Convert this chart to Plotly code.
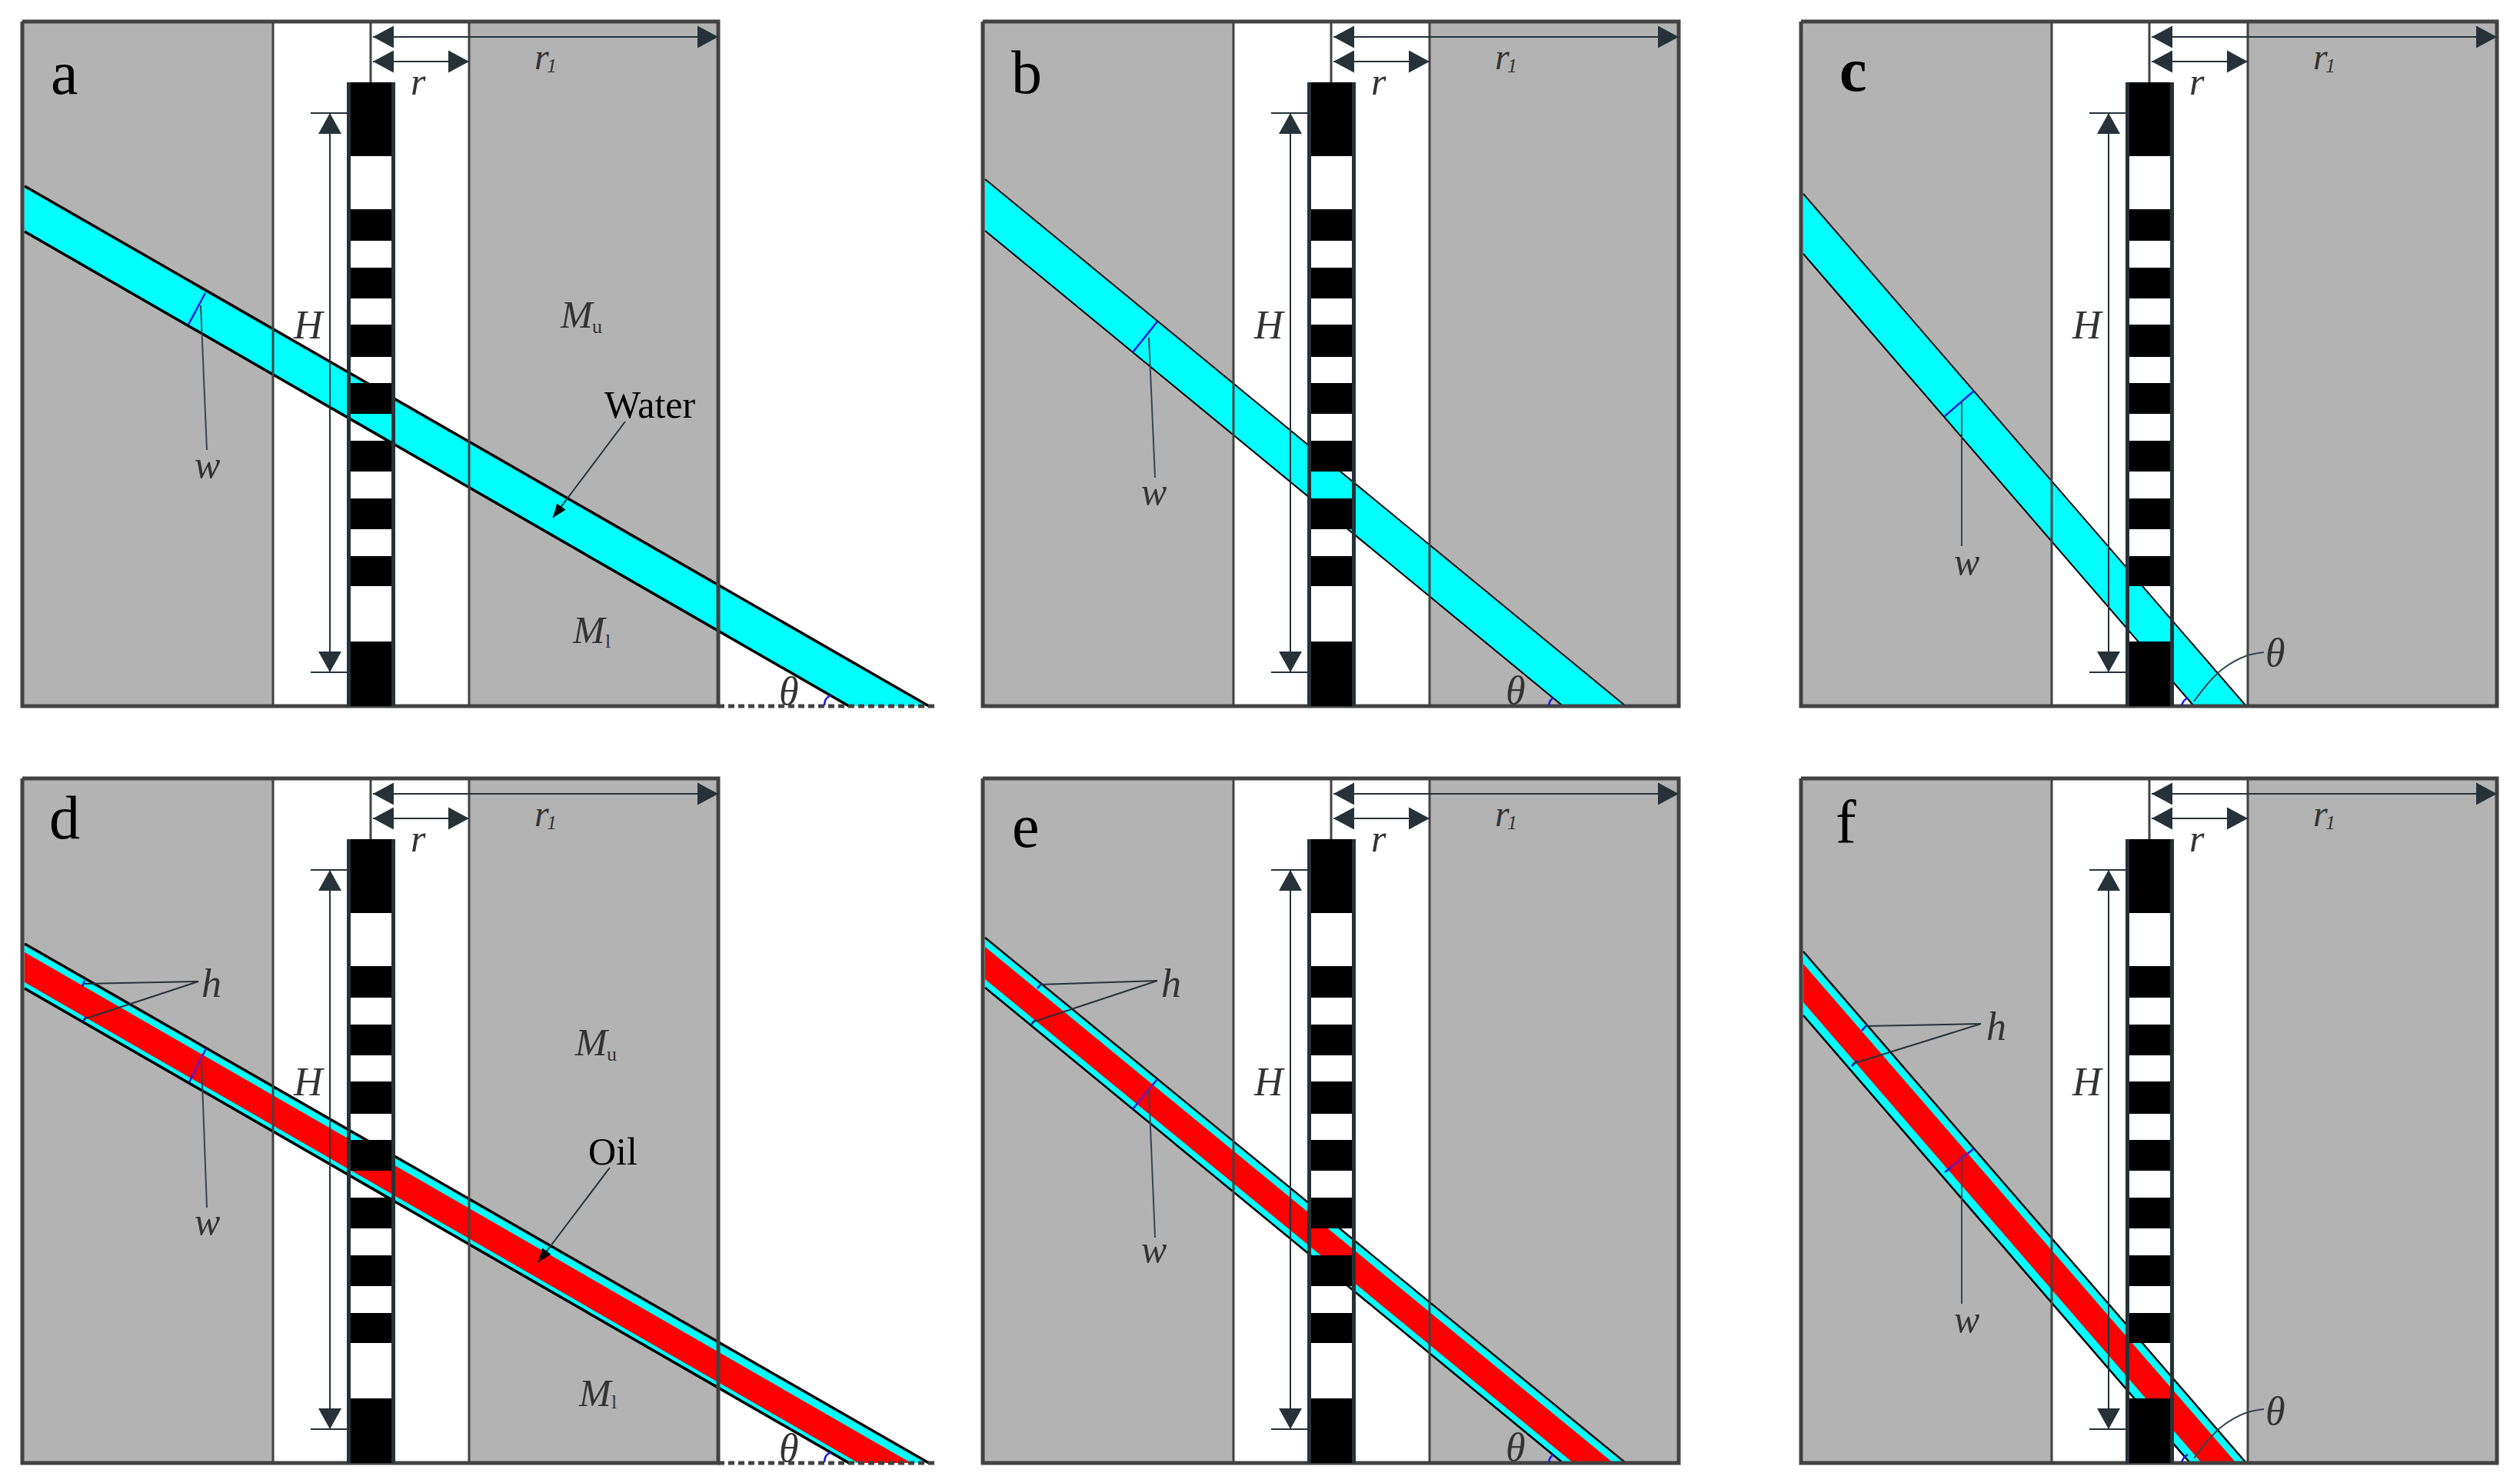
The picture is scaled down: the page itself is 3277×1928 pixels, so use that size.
import plotly.graph_objects as go

panel_names = ["a", "b", "<b>c</b>", "d", "e", "f"]
panel_dx = [0, 1249, 2313, 0, 1249, 2313]
panel_dy = [0, 0, 0, 984, 984, 984]

frame_x = [29, 934]
frame_y = [28, 918]
zone_left = 355
zone_right = 610
well_center = 482
well_left = 451
well_right = 514
well_top = 107
# black stripe edges of the well (top, bottom)
stripe_top = [107, 272, 348, 422, 498, 573, 648, 723, 834]
stripe_bottom = [203, 313, 388, 464, 538, 613, 688, 762, 918]

# band: y at the left edge, x at the bottom edge
band_left_x = 32
band_top_y = [242, 233, 252, 243, 235, 253]
band_low_y = [301, 300, 330, 301, 300, 336]
band_top_end = [1208, 865, 608, 1208, 865, 608]
band_low_end = [1104, 783.5, 540, 1104, 783.5, 535]
band_edge = [3.5, 2, 2, 3.5, 2.5, 2.5]
# oil layer, only bottom row
oil_top_y = [None, None, None, 254, 247, 269]
oil_low_y = [None, None, None, 293, 289, 319]
oil_top_end = [None, None, None, 1185, 849, 595]
oil_low_end = [None, None, None, 1116, 797, 550]

label_pos = [(84, 95), (86, 94), (97, 91), (84, 79), (85, 90), (87, 85)]
w_text = [(269, 604), (251, 639), (244, 730), (269, 604), (251, 640), (244, 731)]
w_seg = [[(267, 381), (245, 422)], [(256, 418), (224, 458)], [(254, 508), (216, 541)],
         [(268, 379), (246, 423)], [(256, 419), (224, 458)], [(254, 509), (216, 540)]]
w_lead = [[(261, 397), (269, 585)], [(245, 439), (253, 621)], [(238, 521), (238, 710)],
          [(262, 396), (269, 586)], [(245, 434), (253, 625)], [(238, 517), (238, 711)]]
theta_text = [(1026, 898), (722, 897), (646, 848), (1026, 898), (722, 897), (646, 850)]
theta_arc = [[(1072, 917), (1074, 909), (1080, 904)], [(765, 917), (767, 911), (771, 907)],
             [(524, 917), (527, 911), (532, 907)], [(1072, 917), (1074, 909), (1080, 904)],
             [(765, 917), (767, 911), (771, 907)], [(524, 917), (527, 911), (532, 907)]]
theta_curve = [(631, 848), (607, 853), (577, 870), (557, 890), (540, 912)]
dash_end = 1217

h_text = [None, None, None, (275, 294), (274, 294), (283, 350)]
h_apex = [None, None, None, (258, 292), (256, 291), (263, 347)]
h_ends = [None, None, None, [(108, 295), (109, 341)], [(103, 296), (93, 345)], [(112, 350), (96, 399)]]
h_segs = [None, None, None,
          [[(110, 291), (107, 298)], [(112, 338), (108, 344)]],
          [[(106, 294), (100, 301)], [(97, 342), (92, 348)]],
          [[(115, 348), (108, 356)], [(102, 395), (95, 402)]]]

r1_arrow = (485, 934, 48)
r_arrow = (485, 610, 80)
H_arrow = (429, 147, 874)
H_tick_x = (404, 451)

GRAY = "#b3b3b3"
FRAME = "#424242"
DARK = "#263238"
TEXT = "#333333"
CYAN = "#00ffff"
RED = "#ff0000"
BLUE = "#1a1ae6"
FONT = "Liberation Serif"

fig = go.Figure()


def line(xs, ys, color, width, dash=None, shape="linear"):
    fig.add_trace(go.Scatter(x=xs, y=ys, mode="lines", hoverinfo="skip",
                             line=dict(color=color, width=width, dash=dash, shape=shape)))


def poly(xs, ys, color):
    fig.add_trace(go.Scatter(x=xs, y=ys, mode="lines", fill="toself", fillcolor=color, hoverinfo="skip",
                             line=dict(color=color, width=0)))


def head(tip, tail, length, width, dx, dy, color=DARK):
    vx = tail[0] - tip[0]
    vy = tail[1] - tip[1]
    n = (vx ** 2 + vy ** 2) ** 0.5
    vx, vy = vx / n, vy / n
    bx = tip[0] + vx * length
    by = tip[1] + vy * length
    px, py = -vy * width / 2, vx * width / 2
    poly([tip[0] + dx, bx + px + dx, bx - px + dx, tip[0] + dx],
         [tip[1] + dy, by + py + dy, by - py + dy, tip[1] + dy], color)


def label(pos, text, size, dx, dy, color=TEXT):
    fig.add_annotation(x=pos[0] + dx, y=pos[1] + dy, xref="x", yref="y", text=text, showarrow=False,
                       xanchor="center", yanchor="middle", font=dict(family=FONT, size=size, color=color))


def draw_panel(i):
    dx = panel_dx[i]
    dy = panel_dy[i]
    x0, x1 = frame_x[0] + dx, frame_x[1] + dx
    y0, y1 = frame_y[0] + dy, frame_y[1] + dy

    # gray rock on both sides
    poly([x0, zone_left + dx, zone_left + dx, x0, x0], [y0, y0, y1, y1, y0], GRAY)
    poly([zone_right + dx, x1, x1, zone_right + dx, zone_right + dx], [y0, y0, y1, y1, y0], GRAY)

    # water band
    lx = band_left_x + dx
    poly([lx, band_top_end[i] + dx, band_low_end[i] + dx, lx, lx],
         [band_top_y[i] + dy, y1, y1, band_low_y[i] + dy, band_top_y[i] + dy], CYAN)
    # oil layer
    if oil_top_y[i] is not None:
        poly([lx, oil_top_end[i] + dx, oil_low_end[i] + dx, lx, lx],
             [oil_top_y[i] + dy, y1, y1, oil_low_y[i] + dy, oil_top_y[i] + dy], RED)
    line([lx, band_top_end[i] + dx], [band_top_y[i] + dy, y1], "black", band_edge[i])
    line([lx, band_low_end[i] + dx], [band_low_y[i] + dy, y1], "black", band_edge[i])

    # dashed base line only where the band leaves the frame
    if i in (0, 3):
        line([x1, dash_end + dx], [y1, y1], FRAME, 5, dash="8px,5px")

    # zone lines and frame
    line([zone_left + dx, zone_left + dx], [y0, y1], FRAME, 3)
    line([zone_right + dx, zone_right + dx], [y0, y1], FRAME, 3)
    line([x0, x1, x1, x0, x0], [y0, y0, y1, y1, y0], FRAME, 5)

    # well
    line([well_center + dx, well_center + dx], [y0, well_top + dy], FRAME, 3)
    for t, b in zip(stripe_top, stripe_bottom):
        poly([well_left + dx, well_right + dx, well_right + dx, well_left + dx, well_left + dx],
             [t + dy, t + dy, b + dy, b + dy, t + dy], "black")
    line([well_left + 2.5 + dx, well_left + 2.5 + dx], [well_top + dy, y1], DARK, 5)
    line([well_right - 2.5 + dx, well_right - 2.5 + dx], [well_top + dy, y1], DARK, 5)

    # r1 and r arrows
    for a in (r1_arrow, r_arrow):
        line([a[0] + dx, a[1] + dx], [a[2] + dy, a[2] + dy], DARK, 2)
        head((a[0], a[2]), (a[1], a[2]), 27, 29, dx, dy)
        head((a[1], a[2]), (a[0], a[2]), 27, 29, dx, dy)

    # H arrow with ticks
    hx, ht, hb = H_arrow
    line([hx + dx, hx + dx], [ht + dy, hb + dy], DARK, 2)
    head((hx, ht), (hx, hb), 27, 30, dx, dy)
    head((hx, hb), (hx, ht), 27, 30, dx, dy)
    line([H_tick_x[0] + dx, H_tick_x[1] + dx], [ht + dy, ht + dy], DARK, 2)
    line([H_tick_x[0] + dx, H_tick_x[1] + dx], [hb + dy, hb + dy], DARK, 2)

    # w marker
    s = w_seg[i]
    line([s[0][0] + dx, s[1][0] + dx], [s[0][1] + dy, s[1][1] + dy], BLUE, 2.5)
    if oil_top_y[i] is not None:
        mx0 = s[0][0] + (s[1][0] - s[0][0]) * 0.2
        my0 = s[0][1] + (s[1][1] - s[0][1]) * 0.2
        mx1 = s[0][0] + (s[1][0] - s[0][0]) * 0.8
        my1 = s[0][1] + (s[1][1] - s[0][1]) * 0.8
        line([mx0 + dx, mx1 + dx], [my0 + dy, my1 + dy], "#8a12a8", 2.5)
    le = w_lead[i]
    line([le[0][0] + dx, le[1][0] + dx], [le[0][1] + dy, le[1][1] + dy], "#37474f", 2)

    # theta arc
    arc = theta_arc[i]
    line([p[0] + dx for p in arc], [p[1] + dy for p in arc], BLUE, 2.5, shape="spline")
    if i in (2, 5):
        line([p[0] + dx for p in theta_curve], [p[1] + dy for p in theta_curve], "#37474f", 2, shape="spline")

    # h markers
    if h_apex[i] is not None:
        for seg in h_segs[i]:
            line([seg[0][0] + dx, seg[1][0] + dx], [seg[0][1] + dy, seg[1][1] + dy], BLUE, 2.5)
        for end in h_ends[i]:
            line([h_apex[i][0] + dx, end[0] + dx], [h_apex[i][1] + dy, end[1] + dy], DARK, 2)
        label(h_text[i], "<i>h</i>", 52, dx, dy)

    label(label_pos[i], panel_names[i], 80, dx, dy, color="black")
    # r1: base letter and its index are placed apart, the index sits lower
    label((704, 73), "<i>r</i>", 48, dx, dy)
    label((717, 85), "<i>1</i>", 26, dx, dy)
    label((544, 106), "<i>r</i>", 50, dx, dy)
    label((401, 422), "<i>H</i>", 52, dx, dy)
    label(w_text[i], "<i>w</i>", 50, dx, dy)
    label(theta_text[i], "<i>θ</i>", 52, dx, dy)


for i in range(6):
    draw_panel(i)

# labels that only two panels have
label((750, 409), "<i>M</i>", 50, 0, 0)
label((776, 424), "u", 26, 0, 0)
label((766, 819), "<i>M</i>", 50, 0, 0)
label((790, 833), "l", 26, 0, 0)
label((845, 526), "Water", 50, 0, 0, color="black")
line([813, 719], [548, 673], DARK, 2)
head((719, 673), (813, 548), 18, 14, 0, 0, color="black")

label((769, 371), "<i>M</i>", 50, 0, 984)
label((795, 386), "u", 26, 0, 984)
label((774, 827), "<i>M</i>", 50, 0, 984)
label((798, 838), "l", 26, 0, 984)
label((797, 513), "Oil", 50, 0, 984, color="black")
line([793, 700], [534 + 984, 657 + 984], DARK, 2)
head((700, 657), (793, 534), 18, 14, 0, 984, color="black")

fig.update_layout(width=3277, height=1928, margin=dict(l=0, r=0, t=0, b=0),
                  paper_bgcolor="white", plot_bgcolor="white", showlegend=False,
                  hovermode=False)
fig.update_xaxes(range=[0, 3277], visible=False, fixedrange=True)
fig.update_yaxes(range=[1928, 0], visible=False, fixedrange=True)

fig.write_html("out.html", config={"displayModeBar": False},
               post_script="document.body.style.margin='0';document.body.style.overflow='hidden';")
